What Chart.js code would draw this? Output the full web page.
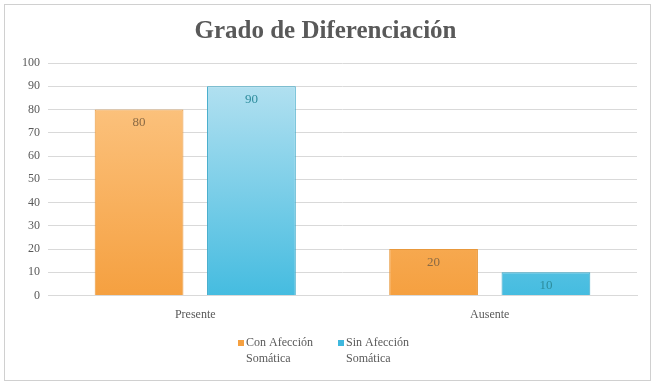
<!DOCTYPE html>
<html>
<head>
<meta charset="utf-8">
<script src="https://cdn.jsdelivr.net/npm/chart.js@4.4.1/dist/chart.umd.min.js"></script>
<style>
  html, body { margin: 0; padding: 0; background: #fff; }
  #wrap { width: 655px; height: 384px; }
</style>
</head>
<body>
<div id="wrap"><canvas id="chart" width="655" height="384"></canvas></div>
<script>
const categories = ['Presente', 'Ausente'];
const seriesNames = [['Con Afección', 'Somática'], ['Sin Afección', 'Somática']];
const conAfeccion = [80, 20];
const sinAfeccion = [90, 10];

const FONT = "'Liberation Serif', serif";

function gradient(ctx, top, bottom) {
    const chart = ctx.chart;
    const area = chart.chartArea;
    if (!area) return bottom;
    const g = chart.ctx.createLinearGradient(0, area.top, 0, area.bottom);
    g.addColorStop(0, top);
    g.addColorStop(1, bottom);
    return g;
}

// border round the whole picture
const framePlugin = {
    id: 'frame',
    beforeDraw(chart) {
        const c = chart.ctx;
        c.save();
        c.strokeStyle = '#d0d0d0';
        c.lineWidth = 1;
        c.strokeRect(4.5, 4.5, 646, 376);
        c.restore();
    }
};

// value labels inside the top of each bar
const valueLabels = {
    id: 'valueLabels',
    afterDatasetsDraw(chart) {
        const c = chart.ctx;
        const colors = ['#8a6a45', '#2d8c9c'];
        c.save();
        c.font = "13px " + FONT;
        c.textAlign = 'center';
        c.textBaseline = 'top';
        chart.data.datasets.forEach((ds, i) => {
            chart.getDatasetMeta(i).data.forEach((bar, j) => {
                c.fillStyle = colors[i];
                c.fillText(ds.data[j], bar.x, bar.y + 7);
            });
        });
        c.restore();
    }
};

// legend with two-line labels
const legendPlugin = {
    id: 'twoLineLegend',
    afterDraw(chart) {
        const c = chart.ctx;
        const boxes = ['#f5a040', '#3fb8de'];
        const xs = [238, 338];
        c.save();
        c.font = "12px " + FONT;
        c.textBaseline = 'middle';
        c.textAlign = 'left';
        seriesNames.forEach((lines, i) => {
            c.fillStyle = boxes[i];
            c.fillRect(xs[i], 340, 6, 6);
            c.fillStyle = '#595959';
            c.fillText(lines[0], xs[i] + 8, 343);
            c.fillText(lines[1], xs[i] + 8, 359);
        });
        c.restore();
    }
};

new Chart(document.getElementById('chart'), {
    type: 'bar',
    data: {
        labels: categories,
        datasets: [
            {
                label: seriesNames[0].join(' '),
                data: conAfeccion,
                backgroundColor: ctx => gradient(ctx, '#fdc98a', '#f5a040'),
                borderColor: '#e8983c',
                borderWidth: 1,
                barPercentage: 0.79,
                categoryPercentage: 0.763
            },
            {
                label: seriesNames[1].join(' '),
                data: sinAfeccion,
                backgroundColor: ctx => gradient(ctx, '#bde4f2', '#45bce0'),
                borderColor: '#3aa8c8',
                borderWidth: 1,
                barPercentage: 0.79,
                categoryPercentage: 0.763
            }
        ]
    },
    options: {
        responsive: false,
        animation: false,
        layout: {
            padding: { left: 14, right: 18, top: 4, bottom: 58 }
        },
        plugins: {
            legend: { display: false },
            tooltip: { enabled: false },
            title: {
                display: true,
                text: 'Grado de Diferenciación',
                color: '#595959',
                font: { family: FONT, size: 25, weight: 'bold' },
                padding: { top: 13, bottom: 16 }
            }
        },
        scales: {
            x: {
                grid: { display: false },
                border: { color: '#d9d9d9' },
                ticks: { color: '#595959', font: { family: FONT, size: 12 }, padding: 4 }
            },
            y: {
                min: 0,
                max: 100,
                ticks: { stepSize: 10, color: '#595959', font: { family: FONT, size: 12 }, padding: 8 },
                grid: { color: '#d9d9d9', drawTicks: false },
                border: { display: false }
            }
        }
    },
    plugins: [framePlugin, valueLabels, legendPlugin]
});
</script>
</body>
</html>
